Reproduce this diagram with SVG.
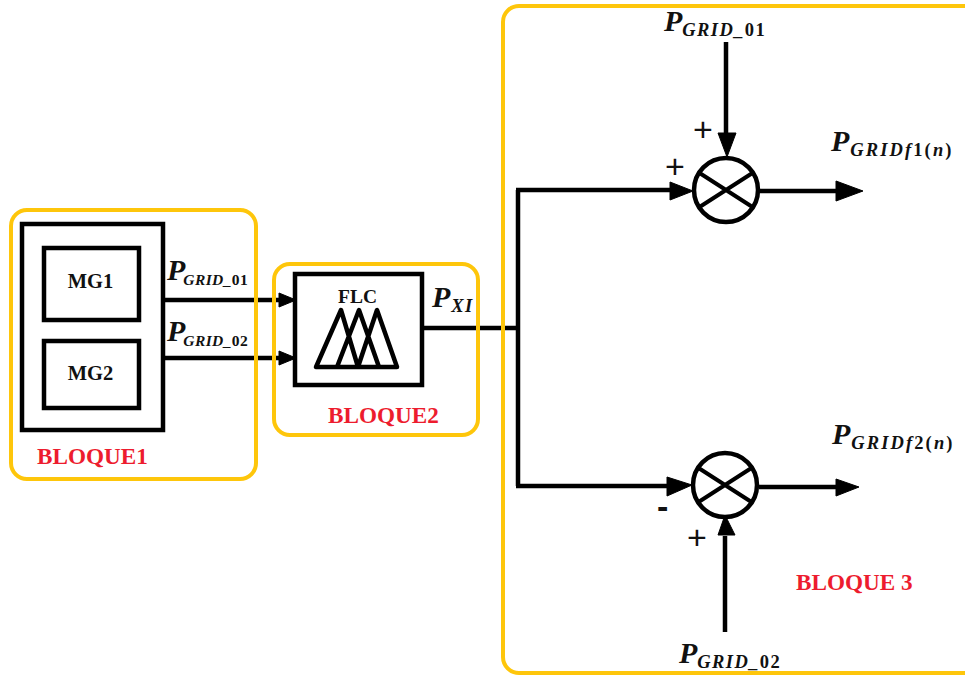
<svg xmlns="http://www.w3.org/2000/svg" width="965" height="677" viewBox="0 0 965 677">
<defs>
<style>
.blk{fill:none;stroke:#000;stroke-width:4.5}
.bl{fill:none;stroke:#fec60b;stroke-width:4}
.ln{fill:none;stroke:#000;stroke-width:4.5}
.x{fill:none;stroke:#000;stroke-width:4}
.ah{fill:#000;stroke:#000;stroke-width:1;stroke-linejoin:round}
.lb{font-family:"Liberation Serif",serif;font-weight:bold;fill:#111}
.rd{font-family:"Liberation Serif",serif;font-weight:bold;fill:#ed1c2e;font-size:23.2px}
.m{font-family:"Liberation Serif",serif;font-weight:bold;font-style:italic;fill:#111}
.p{font-size:30px}
.s{font-size:18.5px;letter-spacing:1.4px}
.f{font-size:18.5px;letter-spacing:2.1px}
.t{font-size:15.5px;letter-spacing:.4px}
.u{font-style:normal}
.sg{font-family:"Liberation Sans",sans-serif;fill:#111;font-size:34px}
</style>
</defs>
<rect width="965" height="677" fill="#fff"/>
<g id="connectors">
<path class="ln" d="M164 300H280M164 358H280M422 328H518M518 190V486M516 190H672M516 486H672M726 42V136M725 632V536M760 191H838M759 487H836"/>
<path class="ah" d="M279 293L296 300L279 307Z"/>
<path class="ah" d="M279 351L296 358L279 365Z"/>
<path class="ah" d="M670 182L693 191L670 200Z"/>
<path class="ah" d="M667 477L692 485L667 496Z"/>
<path class="ah" d="M718 133H736L727 157Z"/>
<path class="ah" d="M718 535H735L725 515Z"/>
<path class="ah" d="M836 181L863 191L836 201Z"/>
<path class="ah" d="M836 479L859 487L836 496Z"/>
</g>
<g id="bloque1">
<rect class="bl" x="11" y="210" width="245" height="269" rx="16"/>
<text class="rd" x="37" y="464">BLOQUE1</text>
<rect class="blk" x="22" y="224" width="141" height="206"/>
</g>
<g id="mg1">
<rect class="blk" x="44" y="248" width="95" height="72"/>
<text class="lb" x="90.500" y="288" font-size="20.500" text-anchor="middle">MG1</text>
</g>
<g id="mg2">
<rect class="blk" x="44" y="341" width="95" height="67"/>
<text class="lb" x="90.500" y="380" font-size="20.500" text-anchor="middle">MG2</text>
</g>
<g id="bloque2">
<rect class="bl" x="274" y="264" width="204" height="171" rx="16"/>
<text class="rd" x="328" y="423">BLOQUE2</text>
</g>
<g id="flc">
<rect class="blk" x="295" y="274" width="127" height="111"/>
<text class="lb" x="357.500" y="303" font-size="19.500" text-anchor="middle">FLC</text>
<path d="M316 367H397L377 310L358 367M337 367L359 310L379 367M316 367L341 310L358 367" fill="none" stroke="#000" stroke-width="4.500" stroke-linejoin="round" stroke-linecap="round"/>
</g>
<g id="bloque3">
<rect class="bl" x="503" y="6" width="480" height="667" rx="16"/>
<text class="rd" x="796" y="590">BLOQUE 3</text>
</g>
<g id="sum1">
<circle cx="726" cy="190" r="32" fill="#fff" stroke="#000" stroke-width="4.500"/>
<path class="x" d="M698 172L754 208M754 172L698 208"/>
</g>
<g id="sum2">
<circle cx="725" cy="485" r="32" fill="#fff" stroke="#000" stroke-width="4.500"/>
<path class="x" d="M697 467L753 503M753 467L697 503"/>
</g>
<g id="labels">
<text class="m" x="167" y="280"><tspan class="p">P</tspan><tspan class="t" dy="5" dx="-2">GRID_<tspan class="u">01</tspan></tspan></text>
<text class="m" x="167" y="341"><tspan class="p">P</tspan><tspan class="t" dy="5" dx="-2">GRID_<tspan class="u">02</tspan></tspan></text>
<text class="m" x="432" y="307"><tspan class="p">P</tspan><tspan class="s" dy="5" dx="1">XI</tspan></text>
<text class="m" x="664" y="31"><tspan class="p">P</tspan><tspan class="s" dy="5">GRID_<tspan class="u">01</tspan></tspan></text>
<text class="m" x="831" y="151"><tspan class="p">P</tspan><tspan class="f" dy="5" dx="1">GRIDf<tspan class="u">1(</tspan>n<tspan class="u">)</tspan></tspan></text>
<text class="m" x="832" y="444"><tspan class="p">P</tspan><tspan class="f" dy="5" dx="1">GRIDf<tspan class="u">2(</tspan>n<tspan class="u">)</tspan></tspan></text>
<text class="m" x="679" y="663"><tspan class="p">P</tspan><tspan class="s" dy="5">GRID_<tspan class="u">02</tspan></tspan></text>
<text class="sg" x="693" y="141">+</text>
<text class="sg" x="665" y="178">+</text>
<text class="sg" x="657" y="518" font-weight="bold">-</text>
<text class="sg" x="687" y="549">+</text>
</g>
</svg>
